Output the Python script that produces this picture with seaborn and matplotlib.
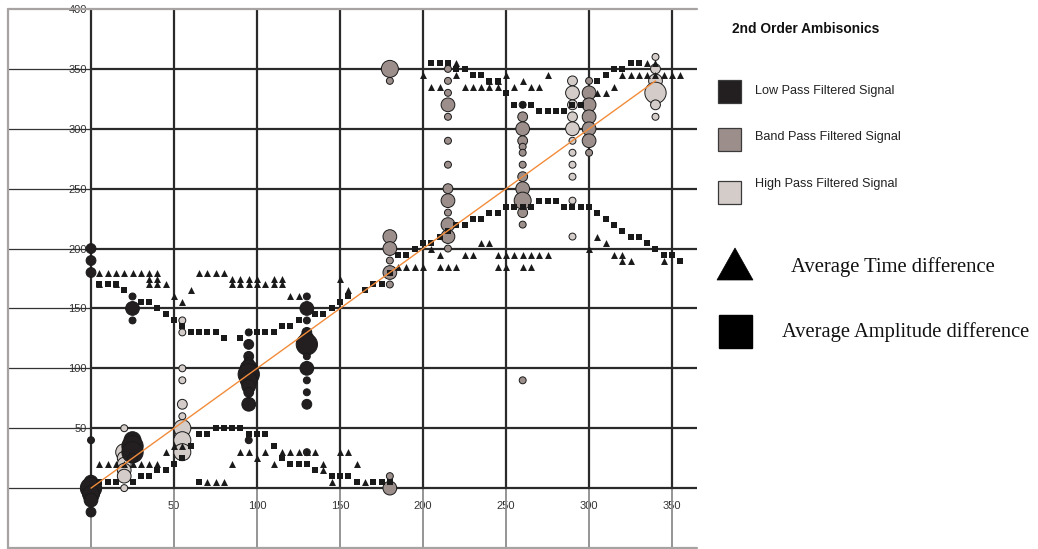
import matplotlib
matplotlib.use("Agg")
import matplotlib.pyplot as plt
from matplotlib.patches import Rectangle, Polygon
import numpy as np
import pandas as pd
import seaborn as sns

# ---------------------------------------------------------------------------
# Data: source angle (deg) -> perceived angle(s) (deg)
# ---------------------------------------------------------------------------
time_diff = {
    5: [180, 170, 20], 10: [180, 20], 15: [180, 170, 20], 20: [180, 20], 25: [180, 20],
    30: [180, 20], 35: [180, 175, 170, 20], 40: [180, 175, 170, 20], 45: [170, 30],
    50: [160, 35], 55: [155, 35], 60: [165], 65: [180], 70: [180, 5], 75: [180, 5],
    80: [180, 5], 85: [175, 170, 20], 90: [175, 170, 30], 95: [175, 170, 30],
    100: [175, 170, 25], 105: [170, 30], 110: [175, 170, 20], 115: [175, 170, 30],
    120: [160, 30], 125: [160, 30], 130: [30], 135: [30], 140: [20, 15], 145: [5],
    150: [175, 30], 155: [165, 30], 160: [20], 165: [5],
    185: [185], 190: [185], 195: [185], 200: [345, 185], 205: [335, 200],
    210: [335, 195, 185], 215: [185], 220: [355, 345, 185], 225: [335, 195],
    230: [335, 195], 235: [335, 205], 240: [340, 335, 205], 245: [340, 335, 195, 185],
    250: [345, 195, 185], 255: [335, 195], 260: [340, 195, 185], 265: [335, 195, 185],
    270: [335, 195], 275: [345, 195], 300: [200], 305: [330, 210], 310: [330, 205],
    315: [335, 195], 320: [345, 195, 190], 325: [345, 190], 330: [345],
    335: [355, 345], 340: [355, 345], 345: [345, 190], 350: [345], 355: [345],
}

amp_diff = {
    5: [170, 5], 10: [170, 5], 15: [170, 5], 20: [165], 25: [5], 30: [155, 10],
    35: [155, 10], 40: [150, 15], 45: [145, 15], 50: [140, 20], 55: [135, 25],
    60: [130, 35], 65: [130, 45, 5], 70: [130, 45], 75: [130, 50], 80: [125, 50],
    85: [50], 90: [125, 50], 95: [130, 45], 100: [130, 45], 105: [130, 45],
    110: [130, 35], 115: [135, 25], 120: [135, 20], 125: [140, 20], 130: [20],
    135: [145, 15], 140: [145], 145: [150, 10], 150: [155, 10], 155: [160, 10],
    160: [5], 165: [165], 170: [170, 5], 175: [170, 5], 180: [180, 5],
    185: [195], 190: [195], 195: [200], 200: [205], 205: [355, 205], 210: [355, 210],
    215: [355, 215], 220: [350, 220], 225: [350, 220], 230: [345, 225], 235: [345, 225],
    240: [340, 230], 245: [340, 230], 250: [330, 235], 255: [320, 235], 260: [320, 235],
    265: [320, 235], 270: [315, 240], 275: [315, 240], 280: [315, 240], 285: [315, 235],
    290: [320, 235], 295: [320, 235], 300: [235], 305: [340, 230], 310: [345, 225],
    315: [350, 220], 320: [350, 215], 325: [355, 210], 330: [355, 210], 335: [205],
    340: [200], 345: [195], 350: [195], 355: [190],
}

# Listener responses: (source angle, perceived angle, number of responses)
low_pass = [
    (0, 200, 2), (0, 190, 2), (0, 180, 2), (0, 40, 1), (0, 5, 3), (0, 0, 5),
    (0, -5, 4), (0, -10, 3), (0, -20, 2),
    (25, 160, 1), (25, 150, 3), (25, 140, 1), (25, 40, 4), (25, 35, 5), (25, 30, 5),
    (25, 25, 2),
    (95, 130, 1), (95, 120, 2), (95, 110, 2), (95, 105, 2), (95, 100, 4), (95, 95, 5),
    (95, 90, 4), (95, 85, 3), (95, 80, 2), (95, 70, 3), (95, 40, 1),
    (130, 160, 1), (130, 150, 3), (130, 140, 1), (130, 130, 2), (130, 125, 3),
    (130, 120, 5), (130, 110, 1), (130, 100, 3), (130, 90, 1), (130, 80, 1),
    (130, 70, 2), (130, 30, 1),
]

band_pass = [
    (180, 350, 4), (180, 340, 1), (180, 210, 3), (180, 200, 3), (180, 190, 1),
    (180, 180, 3), (180, 170, 1), (180, 10, 1), (180, 0, 3),
    (215, 350, 1), (215, 340, 1), (215, 330, 1), (215, 320, 3), (215, 310, 1),
    (215, 290, 1), (215, 270, 1), (215, 250, 2), (215, 240, 3), (215, 230, 1),
    (215, 220, 3), (215, 210, 3), (215, 200, 1),
    (260, 320, 1), (260, 310, 2), (260, 300, 3), (260, 290, 2), (260, 285, 1),
    (260, 280, 1), (260, 270, 1), (260, 260, 2), (260, 250, 3), (260, 240, 4),
    (260, 230, 2), (260, 220, 1), (260, 90, 1),
    (300, 340, 1), (300, 330, 3), (300, 320, 3), (300, 310, 3), (300, 300, 3),
    (300, 290, 3), (300, 280, 1),
]

high_pass = [
    (20, 50, 1), (20, 30, 4), (20, 25, 3), (20, 20, 3), (20, 15, 3), (20, 10, 3),
    (20, 0, 1),
    (55, 140, 1), (55, 130, 1), (55, 100, 1), (55, 90, 1), (55, 70, 2), (55, 60, 1),
    (55, 50, 4), (55, 40, 4), (55, 30, 4),
    (290, 340, 2), (290, 330, 3), (290, 320, 2), (290, 310, 2), (290, 300, 3),
    (290, 290, 1), (290, 280, 1), (290, 270, 1), (290, 260, 1), (290, 240, 1),
    (290, 210, 1),
    (340, 360, 1), (340, 350, 2), (340, 340, 3), (340, 330, 5), (340, 320, 2),
    (340, 310, 1),
]

diag_x = [0, 340]
diag_y = [0, 340]

x_ticks = [50, 100, 150, 200, 250, 300, 350]
y_ticks = [50, 100, 150, 200, 250, 300, 350, 400]

band_names = ["Low Pass Filtered Signal", "Band Pass Filtered Signal",
              "High Pass Filtered Signal"]
band_colors = {"Low Pass Filtered Signal": "#231f20",
               "Band Pass Filtered Signal": "#9c8f8b",
               "High Pass Filtered Signal": "#d4ccc9"}
count_sizes = {1: 25, 2: 50, 3: 98, 4: 150, 5: 235}


def expand(mapping):
    rows = [(a, v) for a, vals in mapping.items() for v in vals]
    return pd.DataFrame(rows, columns=["angle", "perceived"])


time_df = expand(time_diff)
amp_df = expand(amp_diff)

frames = []
for name, pts in [(band_names[2], high_pass), (band_names[1], band_pass),
                  (band_names[0], low_pass)]:
    d = pd.DataFrame(pts, columns=["angle", "perceived", "count"])
    d["band"] = name
    frames.append(d)
resp_df = pd.concat(frames, ignore_index=True)

# ---------------------------------------------------------------------------
# Figure
# ---------------------------------------------------------------------------
sns.set_style("white")
plt.rcParams["font.family"] = ["Liberation Sans", "DejaVu Sans"]

W, H = 1038, 549
fig = plt.figure(figsize=(W / 100, H / 100), dpi=100)
ax = fig.add_axes([8 / W, 1 - 548 / H, (697 - 8) / W, (548 - 9) / H])
ax.set_xlim(-50, 365)
ax.set_ylim(-50, 400)

# grid: dark in the data quadrant, lighter outside
grid_x = np.arange(0, 351, 50)
grid_y = np.arange(0, 351, 50)
ax.vlines(grid_x, 0, 400, colors="#2a2a2a", lw=1.6, zorder=1)
ax.vlines(grid_x, -50, 0, colors="#8c8c8c", lw=1.3, zorder=1)
ax.hlines(grid_y, 0, 365, colors="#2a2a2a", lw=1.6, zorder=1)
ax.hlines(grid_y, -50, 0, colors="#333333", lw=0.9, zorder=1)

# listener responses
sns.scatterplot(data=resp_df, x="angle", y="perceived", hue="band", size="count",
                palette=band_colors, sizes=count_sizes, edgecolor="#1a1a1a",
                linewidth=0.7, legend=False, ax=ax, zorder=3)

# model predictions
sns.scatterplot(data=time_df, x="angle", y="perceived", marker="^", s=25,
                color="#1a1a1a", linewidth=0, ax=ax, zorder=4)
sns.scatterplot(data=amp_df, x="angle", y="perceived", marker="s", s=23,
                color="#1a1a1a", linewidth=0, ax=ax, zorder=4)

# ideal response line
sns.lineplot(x=diag_x, y=diag_y, color="#f28c3a", lw=1.0, ax=ax, zorder=5)

# axes through the origin
for side in ["top", "right", "left", "bottom"]:
    ax.spines[side].set_visible(False)
ax.spines["left"].set_position(("data", 0))
ax.spines["bottom"].set_position(("data", 0))
ax.set_xticks(x_ticks)
ax.set_xticklabels([str(v) for v in x_ticks])
ax.set_yticks(y_ticks)
ax.set_yticklabels([str(v) for v in y_ticks])
ax.tick_params(axis="y", length=2.5, width=0.8, color="#444444", pad=0.6,
               labelsize=8, labelcolor="#333333", direction="out", left=True)
ax.tick_params(axis="x", length=0, pad=9.0, labelsize=8, labelcolor="#333333")
ax.set_xlabel("")
ax.set_ylabel("")

# outer frame (left, top, bottom)
frame_kw = dict(color="#a8a3a3", lw=1.6, transform=ax.transAxes, clip_on=False,
                zorder=6)
ax.plot([0, 0], [0, 1], **frame_kw)
ax.plot([0, 1], [1, 1], **frame_kw)
ax.plot([0, 1], [0, 0], **frame_kw)

# ---------------------------------------------------------------------------
# Legend panel (pixel coordinates)
# ---------------------------------------------------------------------------
lg = fig.add_axes([0, 0, 1, 1])
lg.set_xlim(0, W)
lg.set_ylim(H, 0)
lg.axis("off")

lg.text(732, 29, "2nd Order Ambisonics", fontsize=9.9, fontweight="bold",
        color="#111111", va="center", ha="left")
for name, ytop, ylab in zip(band_names, [80, 128, 181], [91, 137, 184]):
    lg.add_patch(Rectangle((718, ytop), 23, 23, facecolor=band_colors[name],
                           edgecolor="#3a3a3a", lw=0.9))
    lg.text(755, ylab, name, fontsize=9.1, color="#222222", va="center", ha="left")

lg.add_patch(Polygon([[717, 280], [753, 280], [735, 248]], closed=True,
                     facecolor="black", edgecolor="black", lw=0.5))
lg.text(791, 267, "Average Time difference", fontsize=14.9,
        family=["Liberation Serif", "DejaVu Serif"], color="#111111",
        va="center", ha="left")
lg.add_patch(Rectangle((719, 315), 33, 33, facecolor="black", edgecolor="black"))
lg.text(782, 332, "Average Amplitude difference", fontsize=14.8,
        family=["Liberation Serif", "DejaVu Serif"], color="#111111",
        va="center", ha="left")

fig.savefig("out.png", dpi=100, facecolor="white")
